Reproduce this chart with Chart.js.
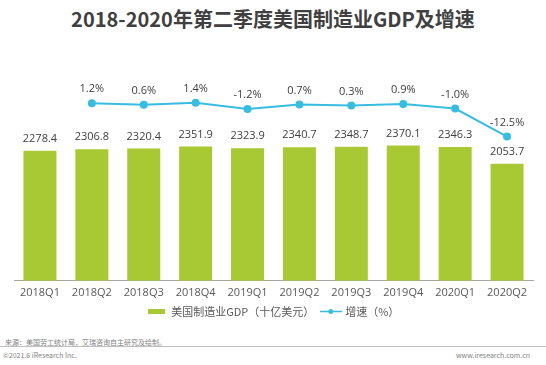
<!DOCTYPE html>
<html>
<head>
<meta charset="utf-8">
<script src="https://cdn.jsdelivr.net/npm/chart.js@4.4.0/dist/chart.umd.min.js"></script>
<style>
  body { margin: 0; background: #fff; width: 546px; height: 365px; position: relative; overflow: hidden; }
  #title { position: absolute; left: 0; top: 4px; width: 546px; text-align: center; font: bold 20px "Noto Sans CJK SC", sans-serif; color: #404040; }
  #wrap { position: absolute; left: 0; top: 0; width: 546px; height: 327px; }
  .foot { position: absolute; font: 7px "Noto Sans CJK SC", sans-serif; color: #7f7f7f; white-space: nowrap; }
  #rule { position: absolute; left: 0; top: 346px; width: 546px; height: 1px; background: #bfbfbf; }
</style>
</head>
<body>
<div id="title">2018-2020年第二季度美国制造业GDP及增速</div>
<div id="wrap"><canvas id="grafico"></canvas></div>
<div class="foot" style="left:5px; top:337px;">来源：美国劳工统计局，艾瑞咨询自主研究及绘制。</div>
<div id="rule"></div>
<div class="foot" style="left:3px; top:350px;">©2021.6 iResearch Inc.</div>
<div class="foot" style="right:16px; top:350px;">www.iresearch.com.cn</div>
<script>
var quarters = ['2018Q1', '2018Q2', '2018Q3', '2018Q4', '2019Q1', '2019Q2', '2019Q3', '2019Q4', '2020Q1', '2020Q2'];
var gdp = [2278.4, 2306.8, 2320.4, 2351.9, 2323.9, 2340.7, 2348.7, 2370.1, 2346.3, 2053.7];
var growth = [null, 1.2, 0.6, 1.4, -1.2, 0.7, 0.3, 0.9, -1.0, -12.5];

var green = '#a8c934';
var blue = '#38bde0';
var numFont = '"Open Sans", "Noto Sans CJK SC", sans-serif';

// legend icons
function legendIcon(kind) {
    var c = document.createElement('canvas');
    var g = c.getContext('2d');
    if (kind == 'bar') {
        c.width = 17; c.height = 5;
        g.fillStyle = green;
        g.fillRect(0, 0, 17, 5);
    } else {
        c.width = 22; c.height = 7;
        g.strokeStyle = blue;
        g.lineWidth = 1.5;
        g.beginPath(); g.moveTo(0, 3.5); g.lineTo(22, 3.5); g.stroke();
        g.fillStyle = blue;
        g.beginPath(); g.arc(11, 3.5, 2.5, 0, Math.PI * 2); g.fill();
    }
    return c;
}

var valueLabels = {
    id: 'valueLabels',
    afterDatasetsDraw: function (chart) {
        var ctx = chart.ctx;
        ctx.save();
        ctx.font = '11px ' + numFont;
        ctx.fillStyle = '#404040';
        ctx.textAlign = 'center';
        ctx.textBaseline = 'middle';
        chart.getDatasetMeta(0).data.forEach(function (bar, i) {
            ctx.fillText(gdp[i].toFixed(1), bar.x, bar.y - 12);
        });
        chart.getDatasetMeta(1).data.forEach(function (pt, i) {
            if (growth[i] === null) return;
            ctx.fillText(growth[i].toFixed(1) + '%', pt.x, pt.y - 14);
        });
        ctx.restore();
    }
};

var ctx = document.getElementById('grafico');
var myChart = new Chart(ctx, {
    type: 'bar',
    data: {
        labels: quarters,
        datasets: [{
            label: '美国制造业GDP（十亿美元）',
            data: gdp,
            backgroundColor: green,
            borderWidth: 0,
            barPercentage: 0.636,
            categoryPercentage: 1,
            yAxisID: 'y',
            order: 2
        }, {
            type: 'line',
            label: '增速（%）',
            data: growth,
            borderColor: blue,
            backgroundColor: blue,
            borderWidth: 2,
            pointRadius: 3,
            pointHoverRadius: 3,
            tension: 0,
            yAxisID: 'y1',
            order: 1
        }]
    },
    options: {
        responsive: true,
        maintainAspectRatio: false,
        animation: false,
        layout: { padding: { left: 14, right: 13, top: 60, bottom: 0 } },
        scales: {
            x: {
                grid: { display: false, drawTicks: false },
                border: { display: true, color: '#a6a6a6', width: 1 },
                ticks: { color: '#595959', font: { family: numFont, size: 11 }, padding: 5 }
            },
            y: { display: false, min: 0, max: 3870 },
            y1: { display: false, min: -71.6, max: 18.9 }
        },
        plugins: {
            legend: {
                position: 'bottom',
                labels: {
                    color: '#595959',
                    font: { family: '"Noto Sans CJK SC", sans-serif', size: 11 },
                    usePointStyle: true,
                    pointStyleWidth: 18,
                    padding: 2,
                    sort: function (a, b) { return a.datasetIndex - b.datasetIndex; },
                    generateLabels: function (chart) {
                        var items = Chart.defaults.plugins.legend.labels.generateLabels(chart);
                        items.forEach(function (it) {
                            if (it.datasetIndex == 0) {
                                it.pointStyle = legendIcon('bar');
                                it.text = it.text + '\u2002';
                            } else {
                                it.pointStyle = legendIcon('line');
                            }
                        });
                        return items;
                    }
                }
            },
            tooltip: { enabled: false }
        }
    },
    plugins: [valueLabels]
});
</script>
</body>
</html>
